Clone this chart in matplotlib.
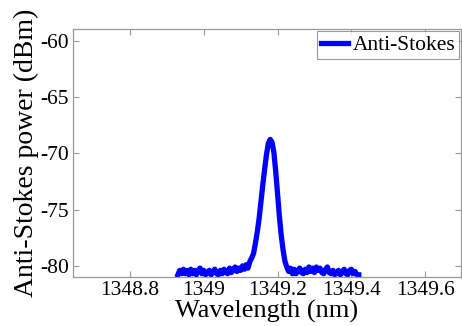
import matplotlib
matplotlib.use("Agg")
import matplotlib.pyplot as plt

wavelength = [
    1348.930, 1348.935, 1348.940, 1348.945, 1348.950, 1348.955, 1348.960, 1348.965,
    1348.970, 1348.975, 1348.980, 1348.985, 1348.990, 1348.995, 1349.000, 1349.005,
    1349.010, 1349.015, 1349.020, 1349.025, 1349.030, 1349.035, 1349.040, 1349.045,
    1349.050, 1349.055, 1349.060, 1349.065, 1349.070, 1349.075, 1349.080, 1349.085,
    1349.090, 1349.095, 1349.100, 1349.105, 1349.110, 1349.115, 1349.120, 1349.125,
    1349.130, 1349.135, 1349.140, 1349.145, 1349.150, 1349.155, 1349.160, 1349.165,
    1349.170, 1349.175, 1349.180, 1349.185, 1349.190, 1349.195, 1349.200, 1349.205,
    1349.210, 1349.215, 1349.220, 1349.225, 1349.230, 1349.235, 1349.240, 1349.245,
    1349.250, 1349.255, 1349.260, 1349.265, 1349.270, 1349.275, 1349.280, 1349.285,
    1349.290, 1349.295, 1349.300, 1349.305, 1349.310, 1349.315, 1349.320, 1349.325,
    1349.330, 1349.335, 1349.340, 1349.345, 1349.350, 1349.355, 1349.360, 1349.365,
    1349.370, 1349.375, 1349.380, 1349.385, 1349.390, 1349.395, 1349.400, 1349.405,
    1349.410, 1349.415, 1349.420,
]
anti_stokes_dbm = [
    -80.8, -80.4, -80.7, -80.3, -80.7, -80.4, -80.8, -80.3,
    -80.7, -80.4, -80.8, -80.4, -80.2, -80.7, -80.4, -80.8,
    -80.6, -80.4, -80.8, -80.5, -80.3, -80.7, -80.8, -80.4,
    -80.7, -80.3, -80.6, -80.7, -80.2, -80.6, -80.3, -80.1,
    -80.5, -80.2, -80.4, -80.0, -80.3, -79.9, -80.2, -79.6,
    -79.3, -78.9, -78.0, -77.0, -75.8, -74.3, -72.8, -71.4,
    -70.1, -69.1, -68.75, -69.0, -69.9, -71.6, -73.6, -75.6,
    -77.3, -78.6, -79.6, -80.1, -80.5, -80.2, -80.7, -80.3,
    -80.7, -80.4, -80.2, -80.6, -80.7, -80.3, -80.6, -80.1,
    -80.5, -80.2, -80.6, -80.1, -80.4, -80.2, -80.6, -80.7,
    -80.3, -80.1, -80.6, -80.7, -80.4, -80.8, -80.6, -80.4,
    -80.8, -80.6, -80.3, -80.7, -80.8, -80.4, -80.3, -80.7,
    -80.5, -80.8, -80.8,
]
xticks = [1348.8, 1349.0, 1349.2, 1349.4, 1349.6]
xtick_labels = ["1348.8", "1349", "1349.2", "1349.4", "1349.6"]
yticks = [-80, -75, -70, -65, -60]
ytick_labels = ["-80", "-75", "-70", "-65", "-60"]

plt.rcParams['font.family'] = ['Liberation Serif', 'DejaVu Serif']

fig = plt.figure(figsize=(4.62, 3.26), dpi=100)
ax = fig.add_axes([0.158, 0.150, 0.840, 0.761])
ax.plot(wavelength, anti_stokes_dbm, color='#0000ff', lw=3.8, label='Anti-Stokes')
ax.set_xlim(1348.646, 1349.697)
ax.set_ylim(-81.0, -58.93)
ax.set_xticks(xticks)
ax.set_xticklabels(xtick_labels)
ax.set_yticks(yticks)
ax.set_yticklabels(ytick_labels)
ax.tick_params(direction='in', length=4, width=0.8, color='0.6', labelsize=15.5,
               top=True, right=True, pad=3)
for s in ax.spines.values():
    s.set_color('0.6')
    s.set_linewidth(0.9)
ax.set_xlabel('Wavelength (nm)', fontsize=19, labelpad=0)
ax.set_ylabel('Anti-Stokes power (dBm)', fontsize=20, labelpad=1)
leg = ax.legend(loc='upper right', fontsize=15.5, frameon=True, fancybox=False,
                handlelength=1.25, handletextpad=0.2, borderpad=0.2,
                borderaxespad=0.08, edgecolor='0.5')
leg.get_frame().set_linewidth(0.8)
fig.savefig('out.png', dpi=100)
